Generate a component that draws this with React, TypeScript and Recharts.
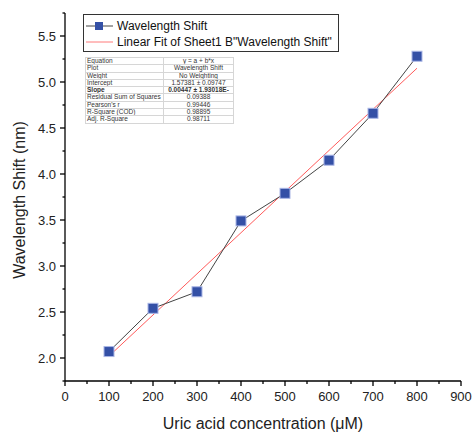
import React from 'react';
import { ComposedChart, Line, XAxis, YAxis } from 'recharts';

// measured points
const concentrations = [100, 200, 300, 400, 500, 600, 700, 800];
const shifts = [2.07, 2.54, 2.72, 3.49, 3.79, 4.15, 4.66, 5.28];

// linear fit from the stats table
const fitIntercept = 1.57381;
const fitSlope = 0.00447;
const fitRange = [100, 800];

const xTicks = [0, 50, 100, 150, 200, 250, 300, 350, 400, 450, 500, 550, 600, 650, 700, 750, 800, 850, 900];
const yTicks = [1.75, 2.0, 2.25, 2.5, 2.75, 3.0, 3.25, 3.5, 3.75, 4.0, 4.25, 4.5, 4.75, 5.0, 5.25, 5.5, 5.75];

const statsRows = [
  ['Equation', 'y = a + b*x'],
  ['Plot', 'Wavelength Shift'],
  ['Weight', 'No Weighting'],
  ['Intercept', '1.57381 ± 0.09747'],
  ['Slope', '0.00447 ± 1.93018E-'],
  ['Residual Sum of Squares', '0.09388'],
  ["Pearson's r", '0.99446'],
  ['R-Square (COD)', '0.98895'],
  ['Adj. R-Square', '0.98711'],
];

const data = concentrations.map((x, i) => ({ x, shift: shifts[i] }));
const fitData = fitRange.map((x) => ({ x, fit: fitIntercept + fitSlope * x }));

const FONT = 'Arial, "Liberation Sans", sans-serif';

const XTick = (props: any) => {
  const { x, y, payload } = props;
  const major = payload.value % 100 === 0;
  return (
    <g>
      <line x1={x} y1={y} x2={x} y2={y + (major ? 5 : 3)} stroke="#000" strokeWidth={1.3} />
      {major && (
        <text x={x} y={y + 20} textAnchor="middle" fontSize={13} fill="#222" fontFamily={FONT}>
          {payload.value}
        </text>
      )}
    </g>
  );
};

const YTick = (props: any) => {
  const { x, y, payload } = props;
  const major = Math.abs((payload.value * 2) % 1) < 1e-6;
  return (
    <g>
      <line x1={x - (major ? 5 : 2.5)} y1={y} x2={x} y2={y} stroke="#000" strokeWidth={1.3} />
      {major && (
        <text x={x - 9} y={y + 4.5} textAnchor="end" fontSize={13} fill="#222" fontFamily={FONT}>
          {payload.value.toFixed(1)}
        </text>
      )}
    </g>
  );
};

const SquareDot = (props: any) => {
  const { cx, cy } = props;
  if (cx == null || cy == null) return null;
  return <rect x={cx - 5} y={cy - 5} width={10} height={10} fill="#3450a6" stroke="#aab6e6" strokeWidth={1} />;
};

const App: React.FC = () => {
  return (
    <div style={{ position: 'absolute', left: 0, top: 0, width: 475, height: 437, background: '#fff', fontFamily: FONT }}>
      <ComposedChart width={475} height={437} margin={{ top: 13, right: 14, bottom: 26, left: 0 }}>
        <XAxis
          type="number"
          dataKey="x"
          domain={[0, 900]}
          ticks={xTicks}
          interval={0}
          height={30}
          tickSize={0}
          tickMargin={0}
          tickLine={false}
          tick={<XTick />}
          axisLine={{ stroke: '#000', strokeWidth: 1.3 }}
          allowDuplicatedCategory={false}
        />
        <YAxis
          type="number"
          domain={[1.75, 5.75]}
          ticks={yTicks}
          interval={0}
          width={65}
          tickSize={0}
          tickMargin={0}
          tickLine={false}
          tick={<YTick />}
          axisLine={{ stroke: '#000', strokeWidth: 1.3 }}
        />
        <Line
          data={fitData}
          dataKey="fit"
          type="linear"
          stroke="#ff5a5a"
          strokeWidth={1}
          dot={false}
          isAnimationActive={false}
        />
        <Line
          data={data}
          dataKey="shift"
          type="linear"
          stroke="#444"
          strokeWidth={1}
          dot={<SquareDot />}
          isAnimationActive={false}
        />
      </ComposedChart>

      {/* axis titles */}
      <div style={{ position: 'absolute', left: 65, width: 396, top: 415, textAlign: 'center', fontSize: 16, color: '#222' }}>
        Uric acid concentration (μM)
      </div>
      <div
        style={{
          position: 'absolute',
          left: 20,
          top: 200,
          transform: 'translate(-50%, -50%) rotate(-90deg)',
          whiteSpace: 'nowrap',
          fontSize: 16,
          color: '#222',
        }}
      >
        Wavelength Shift (nm)
      </div>

      {/* legend */}
      <div
        style={{
          position: 'absolute',
          left: 83,
          top: 14,
          width: 256,
          height: 38,
          border: '1px solid #333',
          boxSizing: 'border-box',
          fontSize: 12,
          color: '#111',
          whiteSpace: 'nowrap',
        }}
      >
        <div style={{ position: 'absolute', left: 1, top: 3, height: 16, display: 'flex', alignItems: 'center' }}>
          <svg width={30} height={16}>
            <line x1={1} y1={8} x2={28} y2={8} stroke="#444" strokeWidth={1} />
            <rect x={10} y={4} width={8} height={8} fill="#3450a6" />
          </svg>
          <span style={{ marginLeft: 2 }}>Wavelength Shift</span>
        </div>
        <div style={{ position: 'absolute', left: 1, top: 19, height: 16, display: 'flex', alignItems: 'center' }}>
          <svg width={30} height={16}>
            <line x1={1} y1={8} x2={28} y2={8} stroke="#ff7a7a" strokeWidth={1} />
          </svg>
          <span style={{ marginLeft: 2 }}>Linear Fit of Sheet1 B"Wavelength Shift"</span>
        </div>
      </div>

      {/* fit stats table */}
      <table
        style={{
          position: 'absolute',
          left: 85,
          top: 57,
          width: 148,
          borderCollapse: 'collapse',
          fontSize: 6.5,
          color: '#333',
          tableLayout: 'fixed',
        }}
      >
        <colgroup>
          <col style={{ width: 78 }} />
          <col style={{ width: 70 }} />
        </colgroup>
        <tbody>
          {statsRows.map(([k, v]) => (
            <tr key={k} style={{ height: 7.3, fontWeight: k === 'Slope' ? 'bold' : 'normal' }}>
              <td style={{ border: '1px solid #d6d6d6', padding: '0 1px', lineHeight: '6.3px', whiteSpace: 'nowrap', overflow: 'hidden' }}>{k}</td>
              <td style={{ border: '1px solid #d6d6d6', padding: 0, lineHeight: '6.3px', textAlign: 'center', whiteSpace: 'nowrap', overflow: 'hidden' }}>{v}</td>
            </tr>
          ))}
        </tbody>
      </table>
    </div>
  );
};

export default App;
